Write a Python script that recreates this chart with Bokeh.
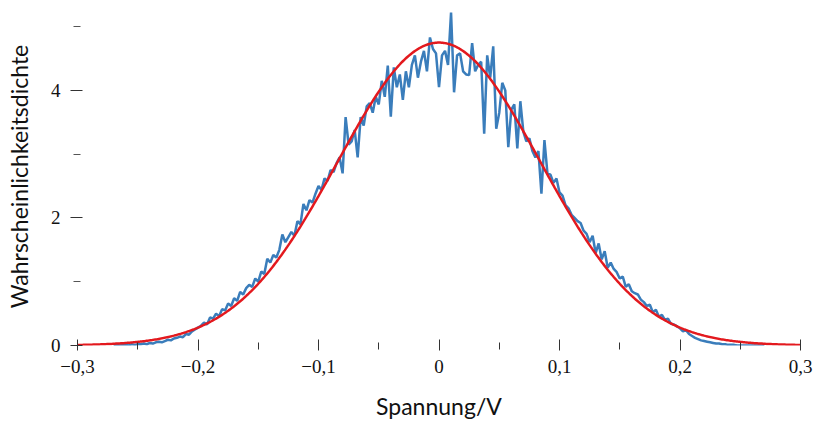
import numpy as np
from bokeh.plotting import figure
from bokeh.models import FixedTicker, Range1d
from bokeh.embed import file_html
from bokeh.resources import INLINE

# Measured probability density of the voltage samples (bin width 0.0025 V, -0.27 ... 0.27 V)
density = [
    0.00, 0.01, 0.00, 0.01, 0.01, 0.00, 0.02, 0.01, 0.02, 0.02,
    0.03, 0.02, 0.04, 0.03, 0.05, 0.06, 0.05, 0.07, 0.09, 0.08,
    0.11, 0.12, 0.14, 0.13, 0.18, 0.17, 0.22, 0.25, 0.28, 0.31,
    0.36, 0.33, 0.44, 0.42, 0.50, 0.46, 0.57, 0.55, 0.66, 0.62,
    0.74, 0.70, 0.84, 0.80, 0.90, 0.95, 0.92, 1.05, 1.00, 1.16,
    1.12, 1.36, 1.30, 1.42, 1.38, 1.50, 1.74, 1.62, 1.70, 1.78,
    1.72, 1.95, 1.90, 2.22, 2.12, 2.28, 2.24, 2.38, 2.50, 2.44,
    2.62, 2.58, 2.75, 2.72, 2.86, 2.95, 2.70, 3.58, 3.15, 3.20,
    3.38, 2.95, 3.58, 3.45, 3.75, 3.80, 3.65, 3.90, 3.78, 4.15,
    3.90, 4.39, 3.59, 4.36, 4.05, 4.25, 3.85, 4.30, 4.05, 4.40,
    4.55, 4.20, 4.45, 4.62, 4.30, 4.83, 4.65, 4.58, 4.05, 4.55,
    4.62, 4.40, 5.22, 3.97, 4.55, 4.58, 4.30, 4.25, 4.24, 4.74,
    4.30, 4.40, 4.45, 3.32, 4.55, 4.20, 4.69, 3.40, 3.65, 4.12,
    4.00, 3.11, 3.70, 3.78, 3.09, 3.83, 3.35, 3.20, 3.25, 3.05,
    2.95, 3.05, 2.38, 3.22, 2.70, 2.68, 2.55, 2.62, 2.40, 2.35,
    2.20, 2.15, 2.05, 2.00, 1.95, 1.92, 1.80, 1.75, 1.62, 1.72,
    1.45, 1.60, 1.35, 1.48, 1.22, 1.30, 1.20, 1.15, 1.05, 1.08,
    0.92, 0.96, 0.85, 0.82, 0.80, 0.72, 0.68, 0.62, 0.64, 0.52,
    0.56, 0.45, 0.48, 0.40, 0.42, 0.34, 0.33, 0.30, 0.27, 0.22,
    0.24, 0.18, 0.15, 0.12, 0.10, 0.08, 0.07, 0.06, 0.05, 0.04,
    0.03, 0.03, 0.02, 0.02, 0.01, 0.01, 0.01, 0.00, 0.00, 0.00,
    0.00, 0.00, 0.00, 0.00, 0.00, 0.00, 0.00,
]
voltage = np.linspace(-0.27, 0.27, len(density))

# Gaussian fit parameters
fit_amplitude = 4.75
fit_mean = 0.0
fit_sigma = 0.0841
fit_x = np.linspace(-0.3, 0.3, 601)
fit_y = fit_amplitude * np.exp(-((fit_x - fit_mean) ** 2) / (2 * fit_sigma ** 2))

x_ticks = [-0.3, -0.2, -0.1, 0.0, 0.1, 0.2, 0.3]
x_tick_labels = ["\u22120,3", "\u22120,2", "\u22120,1", "0", "0,1", "0,2", "0,3"]
x_minor = [-0.25, -0.15, -0.05, 0.05, 0.15, 0.25]
y_ticks = [0, 2, 4]
y_tick_labels = ["0", "2", "4"]
y_minor = [1, 3, 5]

p = figure(
    frame_width=723, frame_height=338,
    min_border_left=77, min_border_right=14, min_border_top=7, min_border_bottom=80,
    x_range=Range1d(-0.3, 0.3), y_range=Range1d(0, 5.3),
    output_backend="svg", toolbar_location=None,
)
p.outline_line_color = None
p.xgrid.visible = False
p.ygrid.visible = False

p.line(voltage, density, line_color="#3a7dbb", line_width=2.5)
p.line(fit_x, fit_y, line_color="#e3191e", line_width=2.5)

tick_font = "'Liberation Serif', 'DejaVu Serif', serif"
label_font = "Lato"

xa = p.xaxis[0]
xa.ticker = FixedTicker(ticks=x_ticks, minor_ticks=x_minor)
xa.major_label_overrides = {t: s for t, s in zip(x_ticks, x_tick_labels)}
xa.axis_line_color = None
xa.major_tick_in = 6
xa.major_tick_out = 5
xa.minor_tick_in = 3
xa.minor_tick_out = 4
xa.major_tick_line_color = "#333333"
xa.minor_tick_line_color = "#333333"
xa.major_label_text_font = tick_font
xa.major_label_text_font_size = "19px"
xa.major_label_text_color = "#111111"
xa.major_label_standoff = 9
xa.axis_label = "Spannung/V"
xa.axis_label_text_font = label_font
xa.axis_label_text_font_size = "23px"
xa.axis_label_text_font_style = "normal"
xa.axis_label_text_color = "#111111"
xa.axis_label_standoff = 16

ya = p.yaxis[0]
ya.ticker = FixedTicker(ticks=y_ticks, minor_ticks=y_minor)
ya.major_label_overrides = {t: s for t, s in zip(y_ticks, y_tick_labels)}
ya.axis_line_color = None
ya.major_tick_in = 5
ya.major_tick_out = 7
ya.minor_tick_in = 3
ya.minor_tick_out = 4
ya.major_tick_line_color = "#333333"
ya.minor_tick_line_color = "#555555"
ya.major_label_text_font = tick_font
ya.major_label_text_font_size = "19px"
ya.major_label_text_color = "#111111"
ya.major_label_standoff = 10
ya.axis_label = "Wahrscheinlichkeitsdichte"
ya.axis_label_text_font = label_font
ya.axis_label_text_font_size = "23px"
ya.axis_label_text_font_style = "normal"
ya.axis_label_text_color = "#111111"
ya.axis_label_standoff = 15

open("out.html", "w").write(file_html(p, INLINE))
